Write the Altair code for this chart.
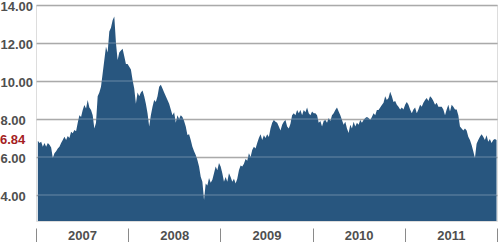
import altair as alt
import pandas as pd

# Price series (roughly every 6-7 days, Jan 2007 - Dec 2011)
values_2007a = [6.85, 6.74, 6.8, 6.54, 6.74, 6.54, 6.74, 6.65, 6.5, 5.95, 6.2, 6.3, 6.45, 6.54,
                6.74, 6.9, 7.07, 6.9, 7.1, 7.0, 7.33, 7.25, 7.42, 7.35, 7.8, 8.2, 8.1, 8.47,
                8.74, 8.55, 9.0, 8.6, 8.47, 8.2, 7.5, 7.8, 9.2, 9.4, 9.7, 10.4, 11.1]
values_2007b = [11.8, 11.5, 12.6, 12.8, 13.2, 13.4, 12.0, 11.1, 11.5, 11.6, 11.7, 11.3, 10.9,
                10.9, 10.75, 10.6, 10.05, 9.6, 8.8, 9.4, 9.2, 9.4, 9.5, 9.2, 8.8, 8.3, 7.6,
                8.2, 8.65, 9.0, 8.9, 9.2, 9.7, 9.8, 9.6, 9.4, 9.2, 9.0, 8.8, 8.5, 8.2, 8.35]
values_2008 = [7.8, 8.2, 8.0, 8.2, 8.1, 7.9, 7.6, 7.16, 7.2, 6.9, 6.54, 6.3, 6.1, 5.84, 5.5,
               4.96, 4.7, 3.74, 4.6, 4.5, 4.9, 4.65, 4.8, 5.15, 5.5, 5.3, 5.68, 5.5, 5.15,
               4.7, 4.95, 4.7, 5.15, 4.95, 4.7, 4.85, 4.6, 4.85, 5.3, 5.55, 5.5, 5.65]
values_2009 = [5.9, 5.8, 6.2, 6.0, 6.37, 6.54, 6.45, 6.74, 7.0, 7.2, 6.9, 7.15, 7.0, 7.2,
               7.05, 7.5, 7.8, 7.95, 7.85, 7.8, 7.6, 7.4, 7.7, 7.85, 7.95, 7.6, 7.5, 7.75,
               8.2, 8.3, 8.2, 8.47, 8.3, 8.47, 8.2, 8.47, 8.35, 8.6, 8.3, 8.2, 8.4, 8.3]
values_2010 = [8.3, 8.2, 7.8, 7.9, 7.6, 7.9, 7.95, 7.8, 8.05, 7.9, 8.2, 8.3, 8.47, 8.6, 8.4,
               8.2, 7.95, 7.7, 7.85, 7.5, 7.26, 7.7, 7.5, 7.85, 7.6, 7.8, 7.7, 7.95, 7.8,
               7.95, 8.05, 8.1, 8.05, 7.95, 8.1, 8.3, 8.2, 8.47, 8.47, 8.6, 8.74, 8.85]
values_2011a = [9.2, 9.0, 9.1, 9.44, 9.2, 8.9, 8.95, 8.75, 8.65, 8.5, 8.6, 8.5, 8.75, 8.9,
                8.75, 8.5, 8.3, 8.5, 8.6, 8.3, 8.5, 8.75, 8.65, 8.85, 9.0, 9.1, 8.95, 9.2,
                9.1, 8.95, 8.75, 8.85, 8.65]
values_2011b = [8.65, 8.65, 8.5, 8.2, 8.5, 8.75, 8.4, 8.75, 8.65, 8.5, 8.5, 8.2, 7.6, 7.5,
                7.4, 7.5, 7.4, 7.07, 6.9, 6.63, 6.3, 5.95, 6.7, 6.9, 7.07, 7.2, 7.07, 6.9,
                7.15, 6.8, 6.95, 6.74, 6.9, 6.95, 6.9]

values = values_2007a + values_2007b + values_2008 + values_2009 + values_2010 + values_2011a + values_2011b
start_year = 2007.02
end_year = 2011.995

grid_values = [4, 6, 8, 10, 12, 14]
year_ticks = [2007, 2008, 2009, 2010, 2011, 2012]
current_label = ["6.84"]
current_value = [6.84]

n = len(values)
df = pd.DataFrame({
    "t": [start_year + i * (end_year - start_year) / (n - 1) for i in range(n)],
    "v": values,
})
grid_df = pd.DataFrame({"v": grid_values})
cur_df = pd.DataFrame({"v": current_value, "label": current_label})

PLOT_H = 216
ymin = 14 - PLOT_H / 19
yscale = alt.Scale(domain=[ymin, 14], nice=False, zero=False)
xscale = alt.Scale(domain=[2007, 2012], nice=False, zero=False)
FONT = "Liberation Sans"

y_axis = alt.Axis(
    values=grid_values, title=None, domain=False, ticks=False, tickSize=0,
    grid=True, gridColor="#9c9c9c", gridWidth=1.5,
    labelAlign="left", labelPadding=36, labelBaseline="middle", labelOffset=1.5,
    format=".2f",
    labelFont=FONT, labelFontSize=13, labelFontWeight="bold", labelColor="#4f4f4f",
    labelOverlap=False, labelBound=False, labelFlush=False)

area = alt.Chart(df).mark_area(color="#28567f", clip=True).encode(
    x=alt.X("t:Q", scale=xscale, axis=alt.Axis(
        values=year_ticks, title=None, domain=False, grid=False,
        ticks=True, tickSize=14, tickColor="#8a8a8a", tickWidth=1, offset=7,
        labelOffset=46, labelPadding=-7, labelBaseline="middle", labelAlign="center",
        labelExpr="datum.value < 2012 ? format(datum.value, 'd') : ''",
        labelFont=FONT, labelFontSize=13, labelFontWeight="bold", labelColor="#4f4f4f",
        labelFlush=False, labelOverlap=False, labelBound=False)),
    y=alt.Y("v:Q", scale=yscale, axis=y_axis),
    y2=alt.datum(ymin),
)

grid_top = alt.Chart(grid_df).mark_rule(color="white", opacity=0.2, strokeWidth=1.5).encode(
    y=alt.Y("v:Q", scale=yscale, axis=y_axis),
)

cur = alt.Chart(cur_df).mark_text(
    align="left", baseline="middle", color="#a51d24", font=FONT,
    fontSize=13, fontWeight="bold", dy=-1,
).encode(
    x=alt.value(-36),
    y=alt.Y("v:Q", scale=yscale, axis=y_axis),
    text="label:N",
)

chart = alt.layer(area, grid_top, cur).properties(
    width=461, height=PLOT_H,
    autosize=alt.AutoSizeParams(type="none"),
    padding={"left": 36, "top": 5, "right": 3, "bottom": 21},
).configure_view(fill="#e9edf2", stroke=None).configure(background="white")

chart.save("out.html", embed_options={"renderer": "svg", "actions": False})
